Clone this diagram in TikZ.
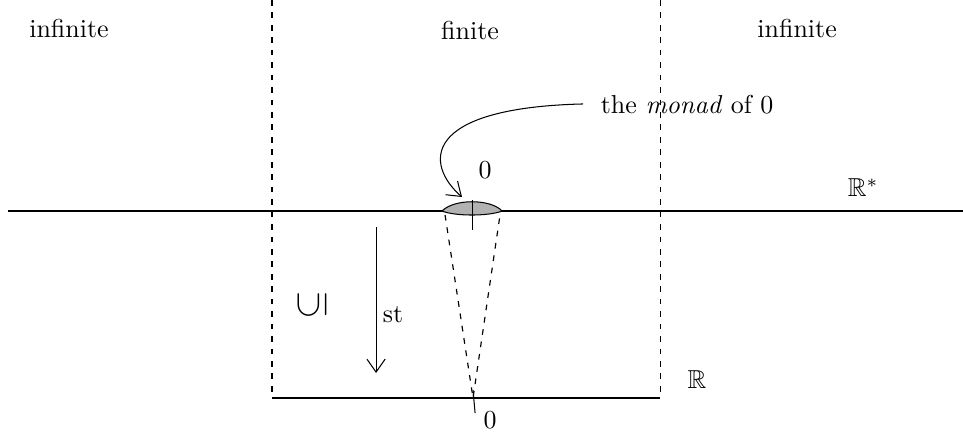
\documentclass[tikz,border=0pt]{standalone}
\usepackage{amsmath}
\usepackage{amssymb}
\usepackage{xcolor}
\usetikzlibrary{arrows.meta}

\begin{document}
\begin{tikzpicture}[
  line/.style={line width=0.8pt},  guide/.style={line width=0.45pt,dash pattern=on 2.2pt off 2.6pt},  label/.style={inner sep=1pt},  tip/.style={-{Straight Barb[length=5pt,width=7pt]}}
]
  \useasboundingbox (0,0) rectangle (13.05,5.882);
  % the two lines
  \coordinate (s0) at (0.108,3.022);
  \coordinate (s1) at (13.05,3.022);
  \coordinate (r0) at (3.686,0.488);
  \coordinate (r1) at (8.945,0.488);
  \coordinate (d0) at (3.686,5.882);
  \coordinate (d1) at (8.945,5.882);
  \draw[line] (s0) -- (s1);
  \draw[line] (r0) -- (r1);
  \draw[guide] (d0) -- (r0);
  \draw[guide] (d1) -- (r1);
  \node[label] (rs) at (11.696,3.334) {$\mathbb{R}^*$};
  \node[label] (r) at (9.446,0.732) {$\mathbb{R}$};
  \node[label] (inf0) at (0.935,5.502) {infinite};
  \node[label] (fin) at (6.370,5.462) {finite};
  \node[label] (inf1) at (10.802,5.502) {infinite};
  % the monad
  \coordinate (mL) at (5.990,3.022);
  \coordinate (mR) at (6.804,3.022);
  \draw[fill=gray!60] (mL) .. controls (6.15,3.19) and (6.65,3.19) .. (mR)
    .. controls (6.62,2.95) and (6.17,2.95) .. (mL);
  \coordinate (t0) at (6.397,3.171);
  \coordinate (t1) at (6.397,2.765);
  \draw (t0) -- (t1);
  \node[label] (z0) at (6.573,3.578) {0};
  \node[label,anchor=west] (monad) at (8.10,4.459) {the \textit{monad} of 0};
  \coordinate (m0) at (7.901,4.473);
  \coordinate (mt) at (6.261,3.212);
  \draw[tip] (m0) .. controls (5.69,4.42) and (5.76,3.65) .. (mt);
  % the cone down to 0
  \coordinate (c0) at (6.031,2.968);
  \coordinate (c1) at (6.776,2.968);
  \coordinate (z) at (6.410,0.488);
  \draw[guide] (c0) -- (z) -- (c1);
  \coordinate (b0) at (6.410,0.596);
  \coordinate (b1) at (6.438,0.285);
  \draw (b0) -- (b1);
  \node[label] (z1) at (6.641,0.190) {0};
  % standard part
  \coordinate (a0) at (5.096,2.805);
  \coordinate (a1) at (5.096,0.827);
  \draw[tip] (a0) -- (a1);
  \node[label] (st) at (5.326,1.613) {st};
  \node[label,rotate=90] (sub) at (4.229,1.748) {\Large$\subseteq$};
\end{tikzpicture}
\end{document}
